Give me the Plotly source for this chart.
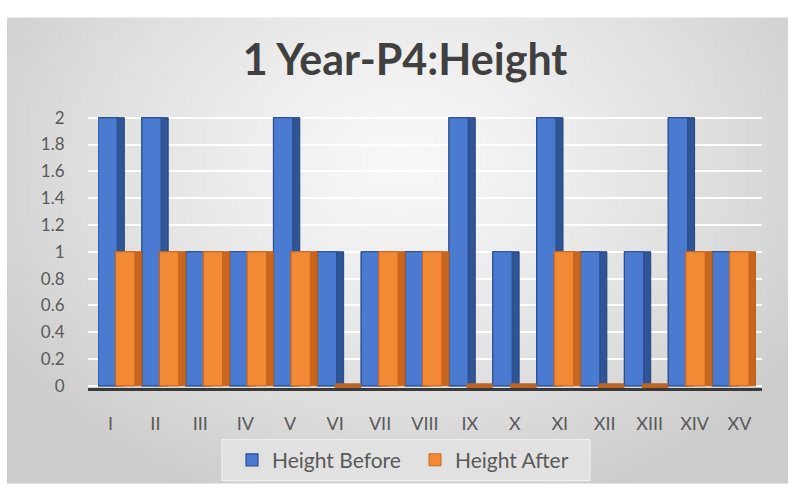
import base64, struct, zlib
import numpy as np
import plotly.graph_objects as go

categories = ["I", "II", "III", "IV", "V", "VI", "VII", "VIII", "IX", "X",
              "XI", "XII", "XIII", "XIV", "XV"]
height_before = [2, 2, 1, 1, 2, 1, 1, 1, 2, 1, 2, 1, 1, 2, 1]
height_after = [1, 1, 1, 1, 1, 0, 1, 1, 0, 0, 1, 0, 0, 1, 1]
y_ticks = [0, 0.2, 0.4, 0.6, 0.8, 1, 1.2, 1.4, 1.6, 1.8, 2]
y_tick_text = ["0", "0.2", "0.4", "0.6", "0.8", "1", "1.2", "1.4", "1.6", "1.8", "2"]

W, H = 788, 493
L, R, T, B = 88, 26, 115, 98
PW, PH = W - L - R, H - T - B


def px_x(p):
    return (p - L) / PW


def px_y(p):
    return (H - B - p) / PH


def gradient_uri(w=120, h=80):
    yy, xx = np.mgrid[0:h, 0:w]
    cx, cy = w * 0.5, h * 0.3
    d = np.sqrt(((xx - cx) / (w * 0.62)) ** 2 + ((yy - cy) / (h * 0.8)) ** 2)
    d = np.clip(d, 0, 1)
    v = 248 - 44 * d ** 1.3
    arr = np.stack([v, v, v], axis=-1).astype(np.uint8)
    raw = b"".join(b"\x00" + arr[i].tobytes() for i in range(h))

    def chunk(tag, data):
        c = struct.pack(">I", len(data)) + tag + data
        return c + struct.pack(">I", zlib.crc32(tag + data) & 0xffffffff)

    png = b"\x89PNG\r\n\x1a\n" + chunk(b"IHDR", struct.pack(">IIBBBBB", w, h, 8, 2, 0, 0, 0))
    png += chunk(b"IDAT", zlib.compress(raw, 9)) + chunk(b"IEND", b"")
    return "data:image/png;base64," + base64.b64encode(png).decode()


after_side_w = [1 if v else 5 for v in height_after]
after_side_c = ["#b85a16" if v else "#b5652c" for v in height_after]

fig = go.Figure()
# invisible trace on the label axis so that subplot (and its grid) is drawn first, below the bars
fig.add_trace(go.Scatter(x=[], y=[], xaxis="x", yaxis="y", showlegend=False, hoverinfo="skip"))
# blue: dark side face + lighter front face
fig.add_trace(go.Bar(
    x=categories, y=height_before, name="Height Before", xaxis="x2", yaxis="y",
    width=0.6, offset=-0.5, showlegend=False, hoverinfo="skip",
    marker=dict(color="#2f5597", line=dict(color="#24457c", width=1)),
))
fig.add_trace(go.Bar(
    x=categories, y=height_before, name="Height Before", xaxis="x2", yaxis="y",
    width=0.44, offset=-0.5,
    marker=dict(color="#4a7bd0", line=dict(color="#2c4f8f", width=1.2)),
))
# orange: dark side face + lighter front face
fig.add_trace(go.Bar(
    x=categories, y=height_after, name="Height After", xaxis="x2", yaxis="y",
    width=0.6, offset=-0.1, showlegend=False, hoverinfo="skip",
    marker=dict(color="#c8661e", line=dict(color=after_side_c, width=after_side_w)),
))
fig.add_trace(go.Bar(
    x=categories, y=height_after, name="Height After", xaxis="x2", yaxis="y",
    width=0.44, offset=-0.1,
    marker=dict(color="#f28a35", line=dict(color="#c8661e", width=1)),
))

bar_left, bar_right = 98, 756

fig.update_layout(
    width=W, height=H,
    margin=dict(l=L, r=R, t=T, b=B),
    paper_bgcolor="white",
    plot_bgcolor="rgba(0,0,0,0)",
    barmode="overlay",
    title=dict(text="<b>1 Year-P4:Height</b>", x=405 / W, xanchor="center",
               y=1 - 60 / H, yanchor="middle",
               font=dict(family="Lato", size=43, color="#404040")),
    font=dict(family="Lato", color="#595959"),
    showlegend=True,
    legend=dict(orientation="h", x=px_x(232), xanchor="left",
                y=px_y(469), yanchor="middle",
                bgcolor="rgba(0,0,0,0)", font=dict(size=21, color="#595959"),
                entrywidth=138, traceorder="normal"),
    images=[dict(source=gradient_uri(), xref="paper", yref="paper",
                 x=px_x(7), y=px_y(15), sizex=(788 - 7) / PW, sizey=(493 - 15) / PH,
                 xanchor="left", yanchor="top", sizing="stretch", layer="below")],
    shapes=[dict(type="rect", xref="paper", yref="paper",
                 x0=px_x(222), x1=px_x(590), y0=px_y(490), y1=px_y(448),
                 fillcolor="rgba(226,226,226,0.9)", line=dict(color="rgba(245,245,245,1)", width=1),
                 layer="below")],
    xaxis=dict(domain=[0, 1], range=[-0.5, 14.5], anchor="y",
               tickvals=list(range(len(categories))), ticktext=categories,
               showline=True, linecolor="#3a3a3a", linewidth=2.5,
               ticks="outside", ticklen=18, tickcolor="rgba(0,0,0,0)",
               tickfont=dict(size=18, color="#595959"),
               showgrid=False, zeroline=False),
    xaxis2=dict(domain=[px_x(bar_left), px_x(bar_right)], range=[-0.5, 14.5],
                anchor="y", showticklabels=False, showline=False, showgrid=False,
                zeroline=False),
    yaxis=dict(range=[-0.016, 2.02], tickvals=y_ticks, ticktext=y_tick_text,
               anchor="x", ticks="outside", ticklen=19, tickcolor="rgba(0,0,0,0)",
               tickfont=dict(size=17, color="#595959"),
               showgrid=True, gridcolor="rgba(255,255,255,0.9)", gridwidth=1.5,
               zeroline=False, showline=False),
)
fig.write_html("out.html")
